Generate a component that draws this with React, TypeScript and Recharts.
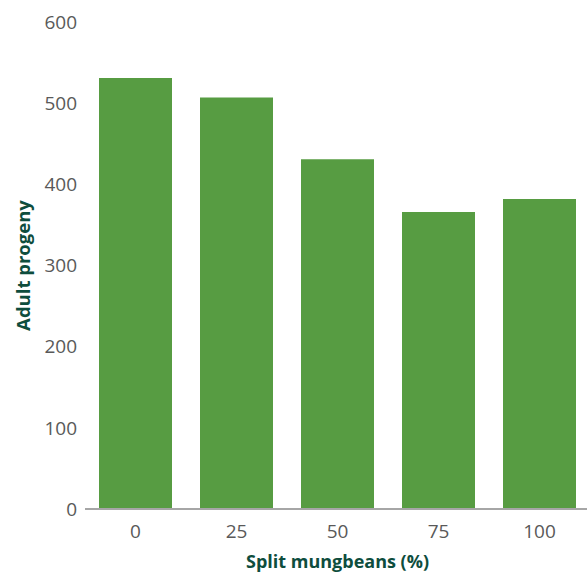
import React from 'react';
import { BarChart, Bar, XAxis, YAxis } from 'recharts';

const categories = ['0', '25', '50', '75', '100'];
const progeny = [531, 507, 431, 366, 382];
const yTicks = [0, 100, 200, 300, 400, 500, 600];

const data = categories.map((c, i) => ({ name: c, value: progeny[i] }));

const FONT = '"Open Sans", "DejaVu Sans", sans-serif';
const TICK_COLOR = '#595959';
const TITLE_COLOR = '#0e4d3d';

const XTitle = (props: any) => {
  const vb = props.viewBox || {};
  return (
    <text
      x={vb.x + vb.width / 2}
      y={568}
      textAnchor="middle"
      fontFamily={FONT}
      fontSize={18}
      fontWeight={700}
      fill={TITLE_COLOR}
    >
      Split mungbeans (%)
    </text>
  );
};

const YTitle = (props: any) => {
  const vb = props.viewBox || {};
  const cy = vb.y + vb.height / 2;
  return (
    <text
      x={30}
      y={cy}
      transform={`rotate(-90 30 ${cy})`}
      textAnchor="middle"
      fontFamily={FONT}
      fontSize={18.5}
      fontWeight={700}
      fill={TITLE_COLOR}
    >
      Adult progeny
    </text>
  );
};

export default function App() {
  return (
    <div style={{ position: 'absolute', left: 0, top: 0, width: 587, height: 574, overflow: 'hidden', background: '#fff' }}>
      <BarChart
        width={590}
        height={574}
        data={data}
        margin={{ top: 22, right: 0, bottom: 0, left: 0 }}
        barCategoryGap={14}
      >
        <XAxis
          dataKey="name"
          height={65}
          tickLine={false}
          axisLine={{ stroke: '#a6a6a6', strokeWidth: 2 }}
          tick={{ fill: TICK_COLOR, fontSize: 19, fontFamily: FONT }}
          tickMargin={10}
          label={<XTitle />}
        />
        <YAxis
          width={85}
          domain={[0, 600]}
          ticks={yTicks}
          tickLine={false}
          axisLine={false}
          tick={{ fill: TICK_COLOR, fontSize: 19, fontFamily: FONT }}
          label={<YTitle />}
        />
        <Bar dataKey="value" fill="#579c42" isAnimationActive={false} />
      </BarChart>
    </div>
  );
}
